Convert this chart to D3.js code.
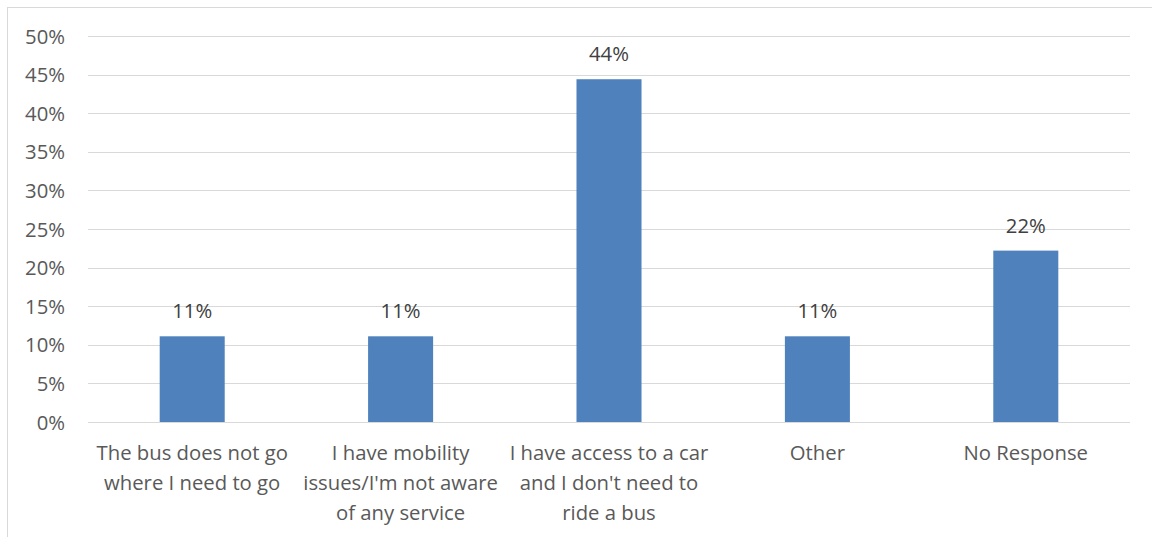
<!DOCTYPE html>
<html><head><meta charset="utf-8">
<script src="https://cdn.jsdelivr.net/npm/d3@7"></script>
<style>body{margin:0;background:#fff;}svg{display:block;}</style>
</head><body>
<svg id="c" width="1152" height="537"></svg>
<script>
const categories = ["The bus does not go where I need to go","I have mobility issues/I'm not aware of any service","I have access to a car and I don't need to ride a bus","Other","No Response"];
const categoryLines = [["The bus does not go","where I need to go"],["I have mobility","issues/I'm not aware","of any service"],["I have access to a car","and I don't need to","ride a bus"],["Other"],["No Response"]];
const values = [0.111, 0.111, 0.444, 0.111, 0.222];
const valueLabels = ["11%","11%","44%","11%","22%"];
const yTicks = [0,0.05,0.10,0.15,0.20,0.25,0.30,0.35,0.40,0.45,0.50];

const svg = d3.select("#c");
const font = "'Open Sans', sans-serif";
const fs = 20.3;
const m = {left:88, right:1130, top:36, bottom:422};
svg.append("rect").attr("x",7.5).attr("y",7.5).attr("width",1160).attr("height",560)
  .attr("fill","none").attr("stroke","#d9d9d9").attr("stroke-width",1);

const x = d3.scaleBand().domain(categories).range([m.left,m.right]).paddingInner(0.688).paddingOuter(0.344);
const y = d3.scaleLinear().domain([0,0.5]).range([m.bottom,m.top]);

const g = svg.append("g");
g.selectAll("line.grid").data(yTicks).enter().append("line")
  .attr("x1",m.left).attr("x2",m.right)
  .attr("y1",d=>Math.round(y(d))+0.5).attr("y2",d=>Math.round(y(d))+0.5)
  .attr("stroke","#d9d9d9").attr("stroke-width",1.2);

const yAxis = d3.axisLeft(y).tickValues(yTicks).tickFormat(d3.format(".0%")).tickSize(0).tickPadding(0);
const ya = svg.append("g").attr("transform","translate(65,0)").call(yAxis);
ya.select(".domain").remove();
ya.selectAll("text").attr("font-family",font).attr("font-size",fs).attr("fill","#595959").attr("dy","0.35em");

g.selectAll("rect.bar").data(values).enter().append("rect")
  .attr("x",(d,i)=>x(categories[i])).attr("width",x.bandwidth())
  .attr("y",d=>y(d)).attr("height",d=>y(0)-y(d)).attr("fill","#4F81BD");

g.selectAll("text.val").data(values).enter().append("text")
  .attr("x",(d,i)=>x(categories[i])+x.bandwidth()/2).attr("y",d=>y(d)-18)
  .attr("text-anchor","middle").attr("font-family",font).attr("font-size",fs).attr("fill","#404040")
  .text((d,i)=>valueLabels[i]);

categoryLines.forEach((lines,i)=>{
  const cx = x(categories[i])+x.bandwidth()/2;
  lines.forEach((ln,j)=>{
    svg.append("text").attr("x",cx).attr("y",460+j*30).attr("text-anchor","middle")
      .attr("font-family",font).attr("font-size",fs).attr("fill","#595959").text(ln);
  });
});
</script>
</body></html>
